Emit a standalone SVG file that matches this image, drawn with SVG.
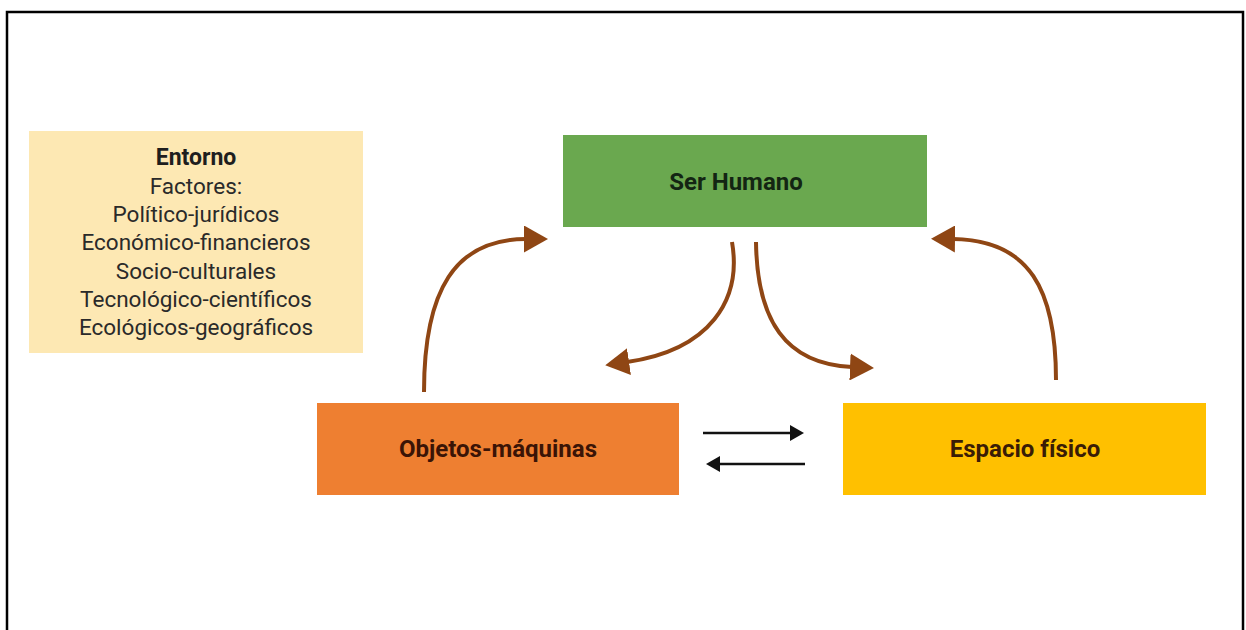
<svg xmlns="http://www.w3.org/2000/svg" width="1246" height="630" viewBox="0 0 1246 630">
  <style>
    .frame { fill: #ffffff; stroke: #000000; stroke-width: 2.5; }
    .env-box { fill: #fde8b3; }
    .env-title { font-family: Roboto, "Liberation Sans", sans-serif; font-size: 23px; font-weight: bold; fill: #1e1e1e; text-anchor: middle; }
    .env-line { font-family: Roboto, "Liberation Sans", sans-serif; font-size: 22.5px; fill: #2a2a2a; text-anchor: middle; }
    .label { font-family: Roboto, "Liberation Sans", sans-serif; font-size: 24px; font-weight: bold; text-anchor: middle; }
    .flow { fill: none; stroke: #8f4614; stroke-width: 4; marker-end: url(#brown-head); }
    .swap { fill: none; stroke: #111111; stroke-width: 2.6; marker-end: url(#black-head); }
  </style>
  <defs>
    <marker id="brown-head" viewBox="0 0 24 27" markerWidth="24" markerHeight="27" refX="2" refY="13.5" orient="auto" markerUnits="userSpaceOnUse">
      <path d="M0,0 L24,13.5 L0,27 Z" fill="#8f4614"/>
    </marker>
    <marker id="black-head" viewBox="0 0 14 16" markerWidth="14" markerHeight="16" refX="1" refY="8" orient="auto" markerUnits="userSpaceOnUse">
      <path d="M0,0 L14,8 L0,16 Z" fill="#111111"/>
    </marker>
  </defs>

  <!-- outer frame (bottom edge runs off the page) -->
  <rect class="frame" x="7" y="12" width="1236" height="660"/>

  <!-- environment factors -->
  <g id="entorno">
    <rect class="env-box" x="29" y="131" width="334" height="222"/>
    <text class="env-title" x="196" y="165">Entorno</text>
    <text class="env-line" x="196" y="194">Factores:</text>
    <text class="env-line" x="196" y="222">Político-jurídicos</text>
    <text class="env-line" x="196" y="250">Económico-financieros</text>
    <text class="env-line" x="196" y="279">Socio-culturales</text>
    <text class="env-line" x="196" y="307">Tecnológico-científicos</text>
    <text class="env-line" x="196" y="335">Ecológicos-geográficos</text>
  </g>

  <g id="ser-humano">
    <rect x="563" y="135" width="364" height="92" fill="#6aa84f"/>
    <text class="label" x="736" y="190" fill="#132513">Ser Humano</text>
  </g>

  <g id="objetos-maquinas">
    <rect x="317" y="403" width="362" height="92" fill="#ee7f31"/>
    <text class="label" x="498" y="457" fill="#3a1406">Objetos-máquinas</text>
  </g>

  <g id="espacio-fisico">
    <rect x="843" y="403" width="363" height="92" fill="#ffc000"/>
    <text class="label" x="1025" y="457" fill="#3a1c06">Espacio físico</text>
  </g>

  <g id="connectors">
    <!-- objects to human -->
    <path class="flow" d="M424,392 C424,290 455,239 526,239"/>
    <!-- human to objects -->
    <path class="flow" d="M732,242 C742,300 710,350 627,362"/>
    <!-- human to space -->
    <path class="flow" d="M756,242 C757,320 785,364 852,367"/>
    <!-- space to human -->
    <path class="flow" d="M1056,380 C1056,290 1030,240 953,239"/>
    <!-- objects and space exchange -->
    <path class="swap" d="M703,433 L791,433"/>
    <path class="swap" d="M805,464 L719,464"/>
  </g>
</svg>
